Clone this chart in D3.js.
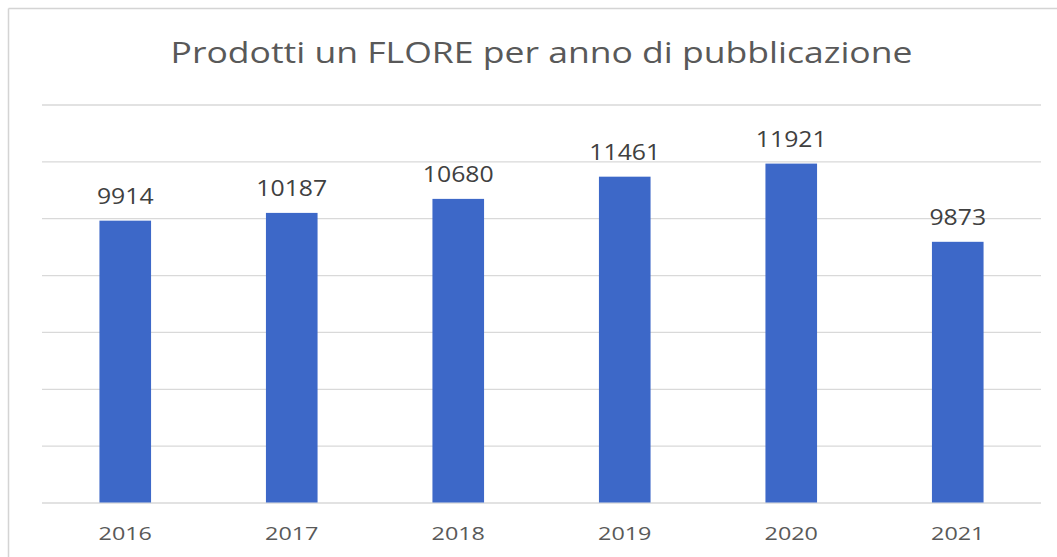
<!DOCTYPE html>
<html>
<head>
<meta charset="utf-8">
<script src="https://cdn.jsdelivr.net/npm/d3@7"></script>
<style>
  html, body { margin: 0; padding: 0; background: #ffffff; }
  svg { display: block; }
</style>
</head>
<body>
<svg id="chart" width="1057" height="557"></svg>
<script>
// ---- data ----
const categories = ["2016", "2017", "2018", "2019", "2020", "2021"];
// bar heights
const barValues = [9914, 10187, 10680, 11461, 11921, 9170];
// data labels printed above the bars
const valueLabels = ["9914", "10187", "10680", "11461", "11921", "9873"];
const yTicks = [0, 2000, 4000, 6000, 8000, 10000, 12000, 14000];
const titleText = "Prodotti un FLORE per anno di pubblicazione";

// ---- layout ----
const svg = d3.select("#chart");
const W = 1057, H = 557;
const plot = { left: 42, right: 1041, top: 104.5, bottom: 502.5 };

// frame (top and left border)
svg.append("line").attr("x1", 8.5).attr("x2", W).attr("y1", 8.5).attr("y2", 8.5)
  .attr("stroke", "#d4d4d4").attr("stroke-width", 1.5);
svg.append("line").attr("x1", 8.5).attr("x2", 8.5).attr("y1", 8.5).attr("y2", H)
  .attr("stroke", "#d4d4d4").attr("stroke-width", 1.5);

const x = d3.scaleBand()
  .domain(categories)
  .range([plot.left, plot.right])
  .paddingInner(0.69)
  .paddingOuter(0.345);

const y = d3.scaleLinear()
  .domain([0, 14000])
  .range([plot.bottom, plot.top]);

// gridlines
const grid = svg.append("g")
  .attr("transform", `translate(${plot.left},0)`)
  .call(d3.axisLeft(y).tickValues(yTicks).tickSize(-(plot.right - plot.left)).tickFormat(""));
grid.select(".domain").remove();
grid.selectAll(".tick line").attr("stroke", "#d9d9d9").attr("stroke-width", 1.3);

// bars
svg.append("g").selectAll("rect")
  .data(categories)
  .join("rect")
  .attr("x", d => x(d))
  .attr("width", x.bandwidth())
  .attr("y", (d, i) => y(barValues[i]))
  .attr("height", (d, i) => y(0) - y(barValues[i]))
  .attr("fill", "#3d68c8");

// value labels
svg.append("g").selectAll("text")
  .data(categories)
  .join("text")
  .attr("transform", (d, i) => `translate(${x(d) + x.bandwidth() / 2},${y(barValues[i]) - 17}) scale(1.18,1)`)
  .attr("text-anchor", "middle")
  .attr("font-family", "'Open Sans', sans-serif")
  .attr("font-size", 21)
  .attr("fill", "#404040")
  .text((d, i) => valueLabels[i]);

// x axis labels
const xAxis = svg.append("g")
  .attr("transform", `translate(0,${plot.bottom})`)
  .call(d3.axisBottom(x).tickSize(0).tickPadding(0));
xAxis.select(".domain").remove();
xAxis.selectAll(".tick text")
  .attr("y", 0)
  .attr("dy", 0)
  .attr("transform", "translate(0,37.5) scale(1.25,1)")
  .attr("font-family", "'Open Sans', sans-serif")
  .attr("font-size", 18.7)
  .attr("fill", "#595959");

// title
svg.append("text")
  .attr("x", 541.5)
  .attr("y", 63)
  .attr("text-anchor", "middle")
  .attr("font-family", "'Open Sans', sans-serif")
  .attr("font-size", 29)
  .attr("fill", "#595959")
  .attr("textLength", 742)
  .attr("lengthAdjust", "spacingAndGlyphs")
  .text(titleText);
</script>
</body>
</html>
